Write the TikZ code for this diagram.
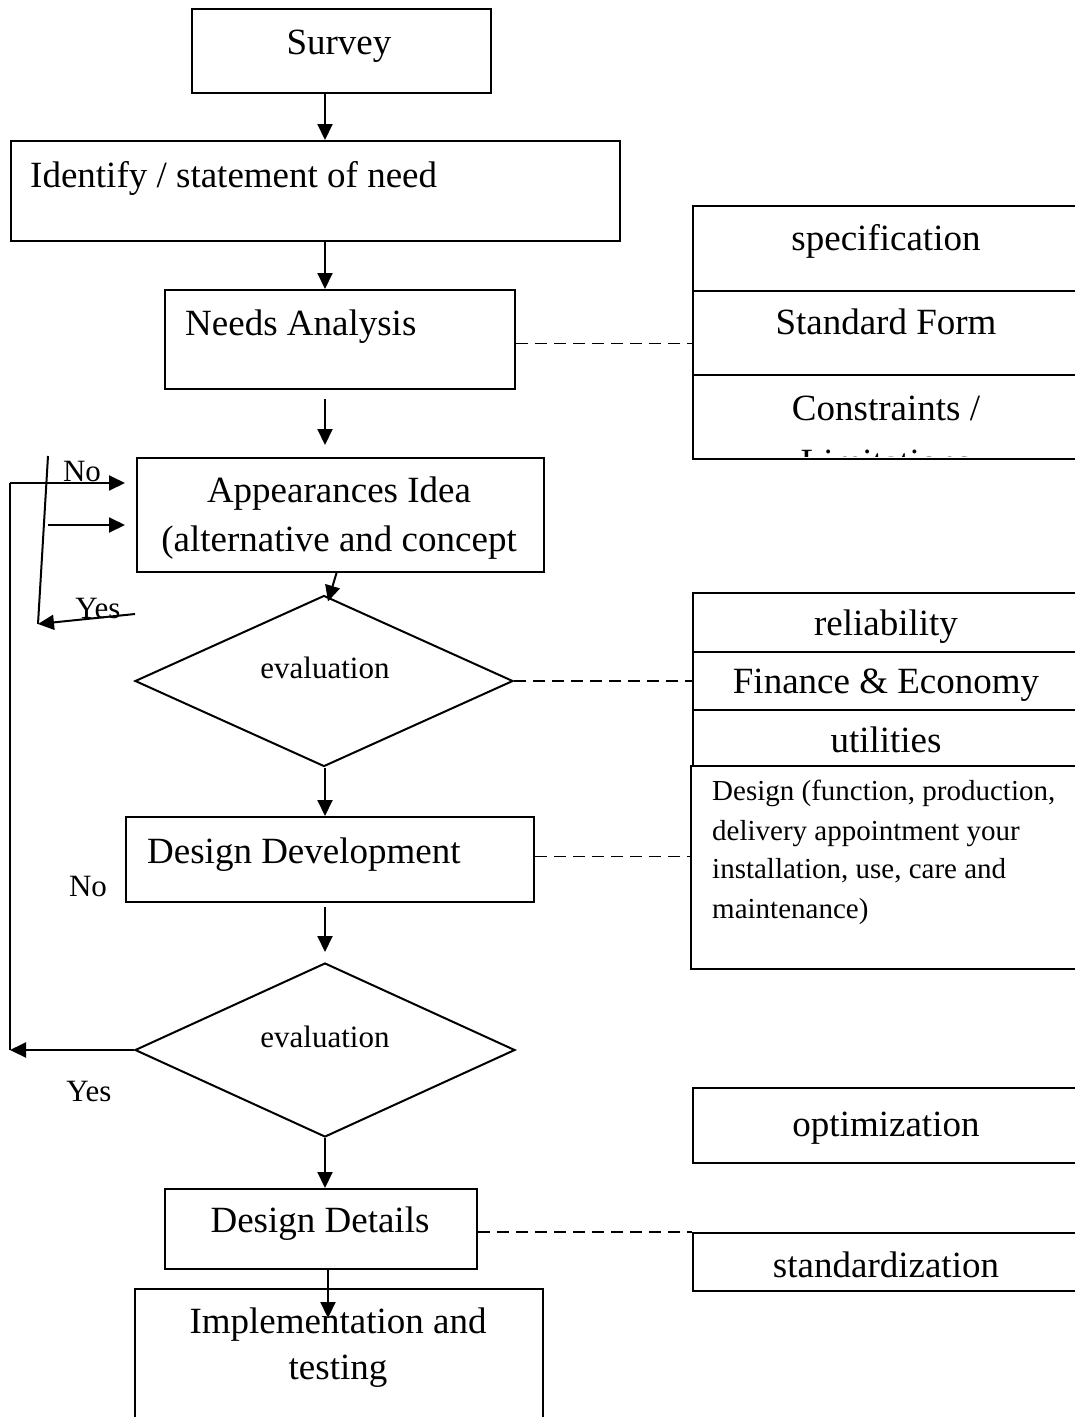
\documentclass[tikz,border=0pt]{standalone}
\usepackage{fontspec}
\setmainfont{Liberation Serif}
\usetikzlibrary{arrows.meta,shapes.geometric}
\begin{document}
\begin{tikzpicture}[x=1pt,y=-1pt,
  box/.style={draw,line width=2pt,inner sep=0pt,anchor=north west},
  dia/.style={draw,line width=2pt,diamond,inner sep=0pt},
  big/.style={font=\fontsize{37}{44}\selectfont,inner sep=0pt},
  small/.style={font=\fontsize{31}{37}\selectfont,inner sep=0pt},
  para/.style={font=\fontsize{29}{39}\selectfont,inner sep=0pt,anchor=base west},
  arr/.style={line width=2pt,-{Triangle[length=16pt,width=15pt]}},
  plain/.style={line width=2pt},
  dashline/.style={line width=1.7pt,dash pattern=on 12pt off 7pt}]
\useasboundingbox (0,0) rectangle (1075,1417);

% main column boxes
\node[box,minimum width=299pt,minimum height=84pt] (survey) at (191,8) {};
\node[box,minimum width=609pt,minimum height=100pt] (identify) at (10,140) {};
\node[box,minimum width=350pt,minimum height=99pt] (needs) at (164,289) {};
\node[box,minimum width=407pt,minimum height=114pt] (app) at (136,457) {};
\node[dia,minimum width=378pt,minimum height=171pt] (eval1) at (324,681) {};
\node[box,minimum width=408pt,minimum height=85pt] (dev) at (125,816) {};
\node[dia,minimum width=380pt,minimum height=174pt] (eval2) at (325,1050) {};
\node[box,minimum width=312pt,minimum height=80pt] (det) at (164,1188) {};
\node[box,minimum width=408pt,minimum height=142pt] (impl) at (134,1288) {};

% right column boxes
\node[box,minimum width=393pt,minimum height=85pt] (spec) at (692,205) {};
\node[box,minimum width=393pt,minimum height=84pt] (stdform) at (692,290) {};
\node[box,minimum width=393pt,minimum height=84pt] (constr) at (692,374) {};
\node[box,minimum width=393pt,minimum height=59pt] (rel) at (692,592) {};
\node[box,minimum width=393pt,minimum height=58pt] (fin) at (692,651) {};
\node[box,minimum width=393pt,minimum height=56pt] (util) at (692,709) {};
\node[box,minimum width=395pt,minimum height=203pt] (dsgn) at (690,765) {};
\node[box,minimum width=393pt,minimum height=75pt] (opt) at (692,1087) {};
\node[box,minimum width=393pt,minimum height=58pt] (std) at (692,1232) {};

% texts
\node[big,anchor=base] (tsurvey) at (339,54) {Survey};
\node[big,anchor=base west] (tident) at (30,187) {Identify / statement of need};
\node[big,anchor=base west] (tneeds) at (185,335) {Needs Analysis};
\node[big,anchor=base] (tapp1) at (339,502) {Appearances Idea};
\node[big,anchor=base] (tapp2) at (339,551) {(alternative and concept};
\node[small,anchor=base] (tev1) at (325,678) {evaluation};
\node[big,anchor=base west] (tdev) at (147,863) {Design Development};
\node[small,anchor=base] (tev2) at (325,1047) {evaluation};
\node[big,anchor=base] (tdet) at (320,1232) {Design Details};
\node[big,anchor=base] (timpl1) at (338,1333) {Implementation and};
\node[big,anchor=base] (timpl2) at (338,1379) {testing};

\node[big,anchor=base] (tspec) at (886,250) {specification};
\node[big,anchor=base] (tstd) at (886,334) {Standard Form};
\node[big,anchor=base] (tcon) at (886,420) {Constraints /};
\begin{scope}
\clip (692,374) rectangle (1085,456);
\node[big,anchor=base] (tlim) at (886,474) {Limitations};
\end{scope}
\node[big,anchor=base] (trel) at (886,635) {reliability};
\node[big,anchor=base] (tfin) at (886,693) {Finance \& Economy};
\node[big,anchor=base] (tutil) at (886,752) {utilities};
\node[para] (td1) at (712,800) {Design (function, production,};
\node[para] (td2) at (712,840) {delivery appointment your};
\node[para] (td3) at (712,878) {installation, use, care and};
\node[para] (td4) at (712,918) {maintenance)};
\node[big,anchor=base] (topt) at (886,1136) {optimization};
\node[big,anchor=base] (tstdz) at (886,1277) {standardization};

\node[small,anchor=base] (tno1) at (82,481) {No};
\node[small,anchor=base] (tyes1) at (98,618) {Yes};
\node[small,anchor=base] (tno2) at (88,896) {No};
\node[small,anchor=base] (tyes2) at (89,1101) {Yes};

% vertical arrows
\coordinate (colx) at (325,0);
\coordinate (colx2) at (328,0);
\draw[arr] (survey.south -| colx) -- (identify.north -| colx);
\draw[arr] (identify.south -| colx) -- (needs.north -| colx);
\draw[arr,shorten <=9pt,shorten >=12pt] (needs.south -| colx) -- (app.north -| colx);
\draw[arr] ([xshift=-4pt]app.south) -- ([xshift=4pt,yshift=-7pt]eval1.north);
\draw[arr] (eval1.south -| colx) -- (dev.north -| colx);
\draw[arr,shorten <=4pt,shorten >=10pt] (dev.south -| colx) -- (eval2.north -| colx);
\draw[arr] (eval2.south -| colx) -- (det.north -| colx);
\draw[arr] (det.south -| colx2) -- ([yshift=-30pt]impl.north -| colx2);

% dashed connectors
\draw[dashline] ([yshift=-4pt]needs.east) -- ([yshift=-4pt]needs.east -| stdform.west);
\draw[dashline] (eval1.east) -- (eval1.east -| fin.west);
\draw[dashline] ([yshift=3pt]dev.east) -- ([yshift=3pt]dev.east -| dsgn.west);
\draw[dashline] ([yshift=-3pt]det.east) -- ([yshift=-3pt]det.east -| std.west);

% left feedback loop
\coordinate (lt) at (10,483);
\coordinate (m1) at (48,525);
\coordinate (s1) at (48,456);
\coordinate (s2) at (38,624);
\coordinate (y1) at (135,614);
\draw[arr] (eval2.west) -- (eval2.west -| lt);
\draw[plain] (eval2.west -| lt) -- (lt);
\draw[arr] (lt) -- ([xshift=-11pt]app.west |- lt);
\draw[arr] (m1) -- ([xshift=-11pt]app.west |- m1);
\draw[plain] (s1) -- (s2);
\draw[arr] (y1) -- (s2);
\end{tikzpicture}
\end{document}
